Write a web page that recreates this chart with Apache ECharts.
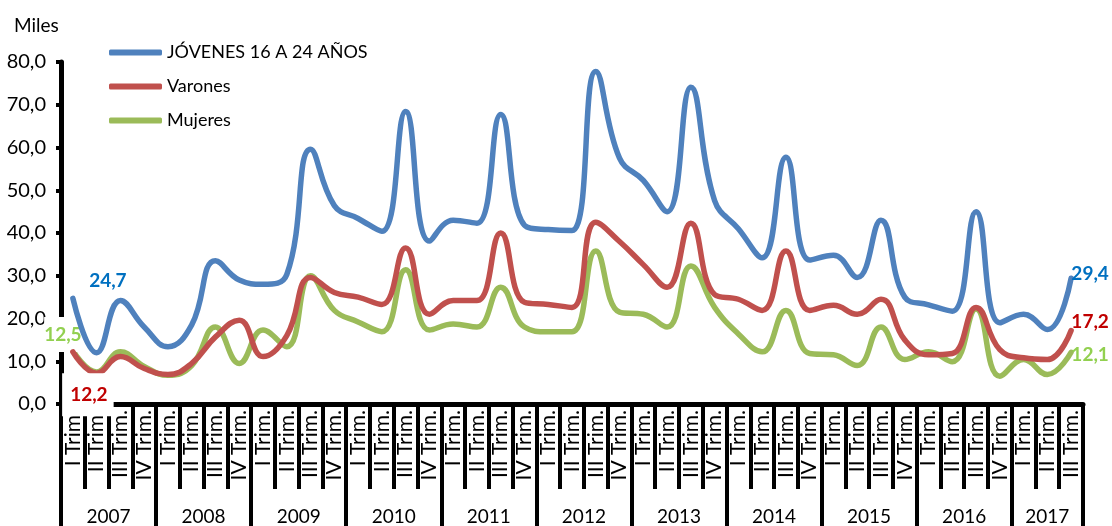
<!DOCTYPE html>
<html>
<head>
<meta charset="utf-8">
<script src="https://cdn.jsdelivr.net/npm/echarts@6/dist/echarts.min.js"></script>
<style>
  html, body { margin: 0; padding: 0; background: #ffffff; }
  #chart { width: 1112px; height: 526px; }
</style>
</head>
<body>
<div id="chart"></div>
<script>
// ---- data ----
const years = ['2007','2008','2009','2010','2011','2012','2013','2014','2015','2016','2017'];
const quarterNames = ['I Trim.','II Trim.','III Trim.','IV Trim.'];
const quarterCounts = [4,4,4,4,4,4,4,4,4,4,3];
const categories = [];
years.forEach((y, k) => { for (let q = 0; q < quarterCounts[k]; q++) categories.push(quarterNames[q]); });

const jovenes = [24.7, 12.0, 24.2, 18.0, 13.4, 18.5, 33.5, 29.0, 28.0, 30.3,
                 59.6, 46.4, 43.4, 40.4, 68.4, 38.1, 43.0, 42.3, 67.7, 41.8,
                 40.8, 40.6, 77.8, 57.5, 52.3, 45.0, 74.1, 47.6, 41.0, 34.2,
                 57.7, 33.7, 34.8, 29.6, 43.0, 25.0, 23.2, 21.7, 45.0, 19.0,
                 21.0, 17.4, 29.4];
const varones = [12.2, 7.2, 11.1, 8.3, 6.9, 9.5, 15.7, 19.6, 11.1, 16.0,
                 29.6, 26.1, 25.0, 23.3, 36.5, 21.0, 24.2, 24.2, 40.0, 23.8,
                 23.3, 22.6, 42.5, 38.0, 32.6, 27.3, 42.3, 25.6, 24.5, 21.9,
                 35.8, 21.9, 23.1, 21.0, 24.5, 15.0, 11.5, 11.8, 22.6, 12.7,
                 10.8, 10.4, 17.2];
const mujeres = [12.5, 7.5, 12.2, 8.8, 6.7, 9.0, 18.0, 9.5, 17.3, 13.4,
                 30.0, 21.9, 19.2, 16.9, 31.4, 17.3, 18.7, 18.0, 27.3, 18.0,
                 16.9, 16.9, 35.8, 21.5, 21.0, 18.0, 32.3, 22.6, 16.4, 12.2,
                 21.9, 11.8, 11.5, 9.0, 18.0, 10.4, 12.2, 9.9, 22.2, 6.5,
                 10.4, 6.9, 12.1];
const seriesNames = ['JÓVENES 16 A 24 AÑOS', 'Varones', 'Mujeres'];

// year boundaries / centres in quarter units
const yearEdges = [0];
quarterCounts.forEach(c => yearEdges.push(yearEdges[yearEdges.length - 1] + c));
const yearCentres = years.map((y, k) => (yearEdges[k] + yearEdges[k + 1]) / 2);

// ---- helpers ----
const FONT = 'Lato';
const fmt = v => v.toFixed(1).replace('.', ',');

function withEndLabels(values, color, firstLabel, lastLabel) {
  const n = values.length;
  return values.map((v, i) => {
    if (i === 0) return { value: v, label: Object.assign({ show: true, color: color }, firstLabel) };
    if (i === n - 1) return { value: v, label: Object.assign({ show: true, color: color }, lastLabel) };
    return v;
  });
}

const baseLabel = {
  position: 'inside',
  align: 'center',
  verticalAlign: 'middle',
  fontFamily: FONT,
  fontWeight: 'bold',
  fontSize: 19,
  formatter: p => fmt(p.value)
};

const chart = echarts.init(document.getElementById('chart'), null, { renderer: 'canvas' });

const lineColors = ['#4F81BD', '#C0504D', '#9BBB59'];
const labelColors = ['#0070C0', '#C00000', '#92D050'];

function makeSeries(idx, values, firstLabel, lastLabel) {
  return {
    name: seriesNames[idx],
    type: 'line',
    smooth: 0.45,
    showSymbol: true,
    symbol: 'circle',
    symbolSize: 1,
    itemStyle: { color: lineColors[idx] },
    lineStyle: { color: lineColors[idx], width: 5.5, cap: 'round', join: 'round' },
    label: { show: false },
    emphasis: { disabled: true },
    z: 3 - idx * 0.1,
    data: withEndLabels(values, labelColors[idx],
      Object.assign({}, baseLabel, firstLabel),
      Object.assign({}, baseLabel, lastLabel))
  };
}

chart.setOption({
  animation: false,
  backgroundColor: '#ffffff',
  textStyle: { fontFamily: FONT },
  title: {
    text: 'Miles',
    left: 9,
    top: 11,
    textStyle: { fontFamily: FONT, fontWeight: 'normal', fontSize: 19, color: '#000' }
  },
  legend: {
    orient: 'vertical',
    left: 104,
    top: 36,
    itemWidth: 53,
    itemHeight: 6,
    itemGap: 11,
    icon: 'roundRect',
    textStyle: { fontFamily: FONT, fontSize: 18, color: '#000', lineHeight: 23 },
    data: seriesNames
  },
  grid: { left: 61, right: 29, top: 62, bottom: 118, containLabel: false },
  xAxis: [
    {
      type: 'category',
      data: categories,
      boundaryGap: true,
      position: 'bottom',
      axisLine: { show: true, onZero: false, lineStyle: { color: '#000', width: 5 } },
      axisTick: { show: true, interval: 0, alignWithLabel: false, length: 85, lineStyle: { color: '#000', width: 4 } },
      axisLabel: { show: true, interval: 0, rotate: 90, margin: 6, fontFamily: FONT, fontSize: 21, color: '#000' },
      splitLine: { show: false }
    },
    {
      type: 'value',
      min: 0,
      max: yearEdges[yearEdges.length - 1],
      position: 'bottom',
      axisLine: { show: false },
      axisTick: { show: true, customValues: yearEdges, length: 125, lineStyle: { color: '#000', width: 4 } },
      axisLabel: {
        show: true,
        customValues: yearCentres,
        formatter: v => years[Math.min(years.length - 1, Math.floor(v / 4))],
        margin: 103,
        fontFamily: FONT, fontSize: 19, color: '#000'
      },
      splitLine: { show: false }
    }
  ],
  yAxis: {
    type: 'value',
    min: 0,
    max: 80,
    interval: 10,
    axisLine: { show: true, lineStyle: { color: '#000', width: 5 } },
    axisTick: { show: true, length: 5, lineStyle: { color: '#000', width: 4 } },
    axisLabel: { formatter: v => fmt(v), margin: 15, fontFamily: FONT, fontSize: 20, color: '#000' },
    splitLine: { show: false }
  },
  series: [
    makeSeries(0, jovenes, { offset: [35, -18] }, { offset: [19, -4] }),
    makeSeries(1, varones,
      { offset: [15, 43], backgroundColor: '#ffffff', padding: [10, 6, 14, 8] },
      { offset: [19, -9] }),
    makeSeries(2, mujeres,
      { offset: [-7, -16], backgroundColor: '#ffffff', padding: [8, 6, 8, 0] },
      { offset: [19, 3] })
  ]
});
</script>
</body>
</html>
